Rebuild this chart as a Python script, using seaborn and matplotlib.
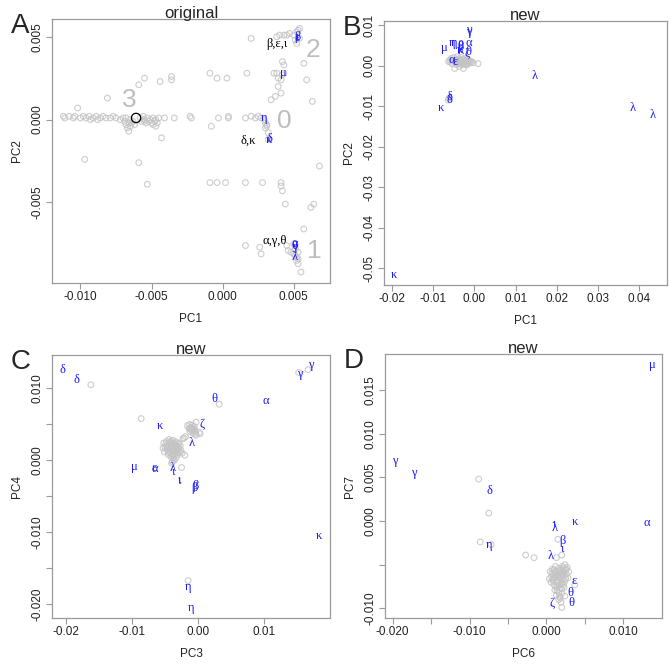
import seaborn as sns
import matplotlib.pyplot as plt
import numpy as np

# ---- panel A: PC1 vs PC2 (original) ----
a_points = [
    (-0.0112, 0.0002), (-0.0111, 0.0001), (-0.0108, 0.0002), (-0.0105, 0.0001), (-0.0104, 0.0002),
    (-0.0102, 0.0007), (-0.0100, 0.0001), (-0.0098, 0.0002), (-0.0097, -0.0024), (-0.0096, 0.0001),
    (-0.0094, 0.0002), (-0.0093, 0.0000), (-0.0091, 0.0001), (-0.0089, 0.0002), (-0.0088, 0.0000),
    (-0.0086, 0.0001), (-0.0084, 0.0002), (-0.0082, 0.0001), (-0.0081, 0.0013), (-0.0079, 0.0001),
    (-0.0077, 0.0002), (-0.0075, 0.0001), (-0.0072, 0.0000), (-0.0070, 0.0001),
    (-0.0069, -0.0001), (-0.0068, -0.0003), (-0.0068, 0.0001), (-0.0067, -0.0005), (-0.0066, -0.0002),
    (-0.0066, -0.0007), (-0.0065, 0.0000), (-0.0065, -0.0004), (-0.0064, -0.0002), (-0.0063, -0.0001),
    (-0.0062, -0.0003), (-0.0058, 0.0001), (-0.0057, -0.0001), (-0.0056, 0.0002), (-0.0055, -0.0001),
    (-0.0055, 0.0000), (-0.0054, -0.0002), (-0.0053, 0.0001), (-0.0052, -0.0001), (-0.0051, 0.0000),
    (-0.0050, -0.0002), (-0.0049, 0.0001), (-0.0049, -0.0003), (-0.0048, -0.0001), (-0.0047, -0.0004),
    (-0.0047, 0.0000), (-0.0046, -0.0002), (-0.0045, 0.0001),
    (-0.0059, 0.0021), (-0.0055, 0.0025), (-0.0059, -0.0026), (-0.0053, -0.0039), (-0.0044, 0.0023),
    (-0.0043, -0.0011), (-0.0041, 0.0001), (-0.0036, 0.0026), (-0.0036, 0.0024), (-0.0034, 0.0001),
    (-0.0023, 0.0002), (-0.0022, 0.0001), (-0.0009, 0.0028), (-0.0008, -0.0004), (-0.0004, 0.0025),
    (-0.0003, 0.0001), (0.0003, 0.0025), (0.0004, 0.0001), (0.0004, 0.0002), (-0.0009, -0.0038),
    (-0.0004, -0.0038), (0.0002, -0.0038), (0.0016, -0.0038), (0.0017, 0.0028), (0.0016, 0.0001),
    (0.0020, 0.0002), (0.0023, 0.0001), (0.0025, 0.0002), (0.0027, 0.0001), (0.0028, -0.0038),
    (0.0029, 0.0000), (0.0030, -0.0002), (0.0031, -0.0004), (0.0030, -0.0005), (0.0031, -0.0003),
    (0.0032, -0.0008), (0.0032, -0.0012),
    (0.0036, 0.0028), (0.0038, 0.0028), (0.0039, 0.0025), (0.0041, 0.0024), (0.0042, 0.0027),
    (0.0043, 0.0028), (0.0043, 0.0033), (0.0042, 0.0035), (0.0041, 0.0016), (0.0039, 0.0020),
    (0.0037, 0.0014), (0.0034, 0.0012),
    (0.0057, 0.0034), (0.0059, 0.0024), (0.0063, 0.0011), (0.0068, -0.0028), (0.0041, -0.0038),
    (0.0041, -0.0040), (0.0042, -0.0043), (0.0044, -0.0051), (0.0062, -0.0053), (0.0064, -0.0051),
    (0.0057, -0.0066),
    (0.0020, 0.0049), (0.0038, 0.0050), (0.0040, 0.0051), (0.0043, 0.0051), (0.0045, 0.0051),
    (0.0047, 0.0052), (0.0050, 0.0051), (0.0052, 0.0053), (0.0053, 0.0054), (0.0054, 0.0055),
    (0.0052, 0.0046), (0.0054, 0.0049), (0.0051, 0.0048),
    (0.0016, -0.0076), (0.0026, -0.0077), (0.0027, -0.0081), (0.0045, -0.0076), (0.0046, -0.0079),
    (0.0048, -0.0080), (0.0050, -0.0081), (0.0051, -0.0082), (0.0052, -0.0083), (0.0053, -0.0084),
    (0.0052, -0.0085), (0.0051, -0.0078), (0.0053, -0.0087), (0.0055, -0.0092), (0.0050, -0.0075),
    (0.0053, -0.0080),
]
a_labels = ['β', 'ε', 'ι', 'μ', 'η', 'δ', 'κ', 'α', 'γ', 'θ', 'λ']
a_label_x = [0.00526, 0.00526, 0.00528, 0.00426, 0.00291, 0.00328, 0.00328, 0.00507, 0.00507, 0.00507, 0.00509]
a_label_y = [0.00496, 0.00490, 0.00500, 0.00282, 0.00012, -0.00118, -0.00124, -0.00750, -0.00770, -0.00760, -0.00827]
a_notes = ['β,ε,ι', 'δ,κ', 'α,γ,θ']
a_note_x = [0.00379, 0.00181, 0.00367]
a_note_y = [0.00454, -0.00125, -0.00730]
a_clusters = ['3', '2', '0', '1']
a_cluster_x = [-0.00656, 0.00635, 0.00430, 0.00647]
a_cluster_y = [0.00121, 0.00419, -0.00010, -0.00790]
a_centre = (-0.00609, 0.00010)

# ---- panel B: PC1 vs PC2 (new) ----
b_points = [
    (-0.0063, 0.0010), (-0.0060, 0.0014), (-0.0058, 0.0008), (-0.0056, 0.0018), (-0.0054, 0.0005),
    (-0.0052, 0.0012), (-0.0050, 0.0020), (-0.0048, -0.0007), (-0.0047, 0.0009), (-0.0045, 0.0015),
    (-0.0044, 0.0002), (-0.0042, 0.0022), (-0.0041, 0.0011), (-0.0040, 0.0005), (-0.0038, 0.0017),
    (-0.0037, -0.0002), (-0.0036, 0.0009), (-0.0034, 0.0013), (-0.0033, 0.0004), (-0.0032, 0.0020),
    (-0.0030, 0.0008), (-0.0029, 0.0015), (-0.0027, -0.0007), (-0.0027, 0.0002), (-0.0025, 0.0011),
    (-0.0024, 0.0017), (-0.0022, 0.0006), (-0.0021, 0.0013), (-0.0019, 0.0009), (-0.0018, 0.0002),
    (-0.0016, 0.0016), (-0.0015, 0.0011), (-0.0013, 0.0006), (-0.0011, 0.0012), (-0.0009, 0.0008),
    (-0.0007, 0.0010), (-0.0003, 0.0007), (0.0009, 0.0005), (-0.0064, -0.0085), (-0.0062, -0.0080),
    (-0.0046, 0.0012), (-0.0043, 0.0008), (-0.0039, 0.0012), (-0.0035, 0.0006), (-0.0031, 0.0011),
    (-0.0028, 0.0005), (-0.0023, 0.0010), (-0.0020, 0.0004), (-0.0017, 0.0009),
]
b_labels = ['γ', 'γ', 'α', 'μ', 'η', 'η', 'θ', 'β', 'λ', 'κ', 'ι', 'ζ', 'θ', 'α', 'ε',
            'λ', 'λ', 'λ', 'δ', 'δ', 'κ', 'κ']
b_label_x = [-0.0015, -0.0015, -0.0013, -0.0072, -0.0054, -0.0049, -0.0035, -0.0034, -0.0033, -0.0036,
             -0.0039, -0.0017, -0.0016, -0.0054, -0.0046, 0.0146, 0.0385, 0.0433, -0.0060, -0.0061,
             -0.0082, -0.0195]
b_label_y = [0.0088, 0.0082, 0.0056, 0.0043, 0.0056, 0.0055, 0.0048, 0.0046, 0.0037, 0.0038,
             0.0039, 0.0030, 0.0033, 0.0014, 0.0010, -0.0026, -0.0105, -0.0122, -0.0078, -0.0085,
             -0.0105, -0.0516]

# ---- panel C: PC3 vs PC4 (new) ----
c_points = [
    (-0.0052, 0.0024), (-0.0050, 0.0018), (-0.0051, 0.0012), (-0.0048, 0.0026), (-0.0047, 0.0020),
    (-0.0046, 0.0014), (-0.0045, 0.0008), (-0.0044, 0.0023), (-0.0043, 0.0017), (-0.0042, 0.0011),
    (-0.0041, 0.0005), (-0.0041, 0.0027), (-0.0040, 0.0020), (-0.0039, 0.0014), (-0.0038, 0.0008),
    (-0.0037, 0.0002), (-0.0037, 0.0024), (-0.0036, 0.0017), (-0.0035, 0.0011), (-0.0034, 0.0026),
    (-0.0033, 0.0020), (-0.0032, 0.0014), (-0.0031, 0.0008), (-0.0030, 0.0023), (-0.0029, 0.0017),
    (-0.0028, 0.0011), (-0.0027, 0.0020), (-0.0026, 0.0014), (-0.0039, -0.0002), (-0.0040, -0.0004),
    (-0.0033, 0.0004), (-0.0053, 0.0017), (-0.0024, 0.0010), (-0.0020, 0.0007), (-0.0025, -0.0010),
    (-0.0023, 0.0030), (-0.0021, 0.0031), (-0.0019, 0.0033),
    (-0.0049, 0.0022), (-0.0047, 0.0016), (-0.0045, 0.0011), (-0.0043, 0.0025), (-0.0042, 0.0019),
    (-0.0040, 0.0009), (-0.0039, 0.0023), (-0.0038, 0.0018), (-0.0037, 0.0012), (-0.0036, 0.0006),
    (-0.0035, 0.0022), (-0.0034, 0.0016), (-0.0033, 0.0010), (-0.0031, 0.0019), (-0.0030, 0.0013),
    (-0.0029, 0.0024), (-0.0044, 0.0029), (-0.0038, 0.0028), (-0.0036, 0.0000), (-0.0038, 0.0004),
    (-0.0016, 0.0048), (-0.0014, 0.0044), (-0.0013, 0.0050), (-0.0012, 0.0040), (-0.0011, 0.0046),
    (-0.0010, 0.0042), (-0.0009, 0.0049), (-0.0008, 0.0038), (-0.0008, 0.0044), (-0.0007, 0.0041),
    (-0.0006, 0.0047), (-0.0005, 0.0036), (-0.0005, 0.0043), (-0.0004, 0.0039), (-0.0003, 0.0053),
    (-0.0003, 0.0035), (0.0002, 0.0039), (0.0003, 0.0037), (-0.0012, 0.0045), (-0.0009, 0.0043),
    (-0.0162, 0.0105), (-0.0086, 0.0058), (0.0032, 0.0078), (-0.0015, -0.0167), (0.0166, 0.0126),
    (0.0152, 0.0122),
]
c_labels = ['δ', 'δ', 'γ', 'γ', 'θ', 'α', 'κ', 'ζ', 'λ', 'μ', 'ε', 'α', 'λ', 'ι', 'ι', 'ι',
            'β', 'β', 'κ', 'η', 'η']
c_label_x = [-0.0205, -0.0183, 0.0153, 0.0170, 0.0024, 0.0103, -0.0057, 0.0006, -0.0010, -0.0096,
             -0.0067, -0.0066, -0.0038, -0.0038, -0.0028, -0.0029, -0.0006, -0.0004, 0.0183, -0.0015,
             -0.0011]
c_label_y = [0.0126, 0.0111, 0.0120, 0.0133, 0.0085, 0.0083, 0.0048, 0.0051, 0.0024, -0.0009,
             -0.0011, -0.0012, -0.0010, -0.0016, -0.0027, -0.0028, -0.0039, -0.0036, -0.0105, -0.0176,
             -0.0205]

# ---- panel D: PC6 vs PC7 (new) ----
d_points = [
    (0.0005, -0.0058), (0.0007, -0.0064), (0.0006, -0.0070), (0.0008, -0.0055), (0.0009, -0.0061),
    (0.0009, -0.0067), (0.0010, -0.0073), (0.0011, -0.0058), (0.0011, -0.0079), (0.0012, -0.0052),
    (0.0012, -0.0064), (0.0013, -0.0070), (0.0013, -0.0085), (0.0014, -0.0057), (0.0014, -0.0076),
    (0.0015, -0.0062), (0.0015, -0.0068), (0.0016, -0.0054), (0.0016, -0.0082), (0.0017, -0.0059),
    (0.0017, -0.0073), (0.0018, -0.0065), (0.0018, -0.0088), (0.0019, -0.0056), (0.0019, -0.0070),
    (0.0020, -0.0061), (0.0020, -0.0078), (0.0021, -0.0052), (0.0021, -0.0067), (0.0022, -0.0058),
    (0.0022, -0.0073), (0.0023, -0.0063), (0.0024, -0.0050), (0.0024, -0.0069), (0.0025, -0.0056),
    (0.0026, -0.0061), (0.0027, -0.0053), (0.0028, -0.0065), (0.0004, -0.0066), (0.0019, -0.0093),
    (0.0020, -0.0099),
    (0.0007, -0.0060), (0.0008, -0.0068), (0.0010, -0.0056), (0.0010, -0.0065), (0.0012, -0.0075),
    (0.0013, -0.0060), (0.0014, -0.0080), (0.0015, -0.0071), (0.0016, -0.0064), (0.0017, -0.0086),
    (0.0018, -0.0077), (0.0019, -0.0062), (0.0020, -0.0083), (0.0021, -0.0071), (0.0022, -0.0054),
    (0.0023, -0.0076), (0.0023, -0.0059), (0.0025, -0.0066), (0.0026, -0.0055), (0.0016, -0.0090),
    (-0.0088, 0.0048), (-0.0075, 0.0009), (-0.0086, -0.0024), (-0.0072, -0.0027), (-0.0027, -0.0039),
    (-0.0016, -0.0042), (0.0015, -0.0021), (0.0020, -0.0039), (0.0013, -0.0042), (0.0037, -0.0073),
    (0.0029, -0.0058), (0.0024, -0.0086),
]
d_labels = ['μ', 'γ', 'γ', 'δ', 'κ', 'α', 'λ', 'ι', 'β', 'ι', 'λ', 'η', 'ε', 'θ', 'θ', 'ζ']
d_label_x = [0.0138, -0.0197, -0.0172, -0.0074, 0.0037, 0.0131, 0.0011, 0.0011, 0.0021, 0.0021,
             0.0005, -0.0075, 0.0036, 0.0031, 0.0032, 0.0008]
d_label_y = [0.0179, 0.0069, 0.0055, 0.0034, -0.0001, -0.0002, -0.0008, -0.0004, -0.0023, -0.0032,
             -0.0040, -0.0027, -0.0069, -0.0082, -0.0094, -0.0094]

sns.set_style("white")
plt.rcParams['font.family'] = ['Liberation Sans', 'DejaVu Sans']

GREY = '#c4c4c4'
BLUE = '#1a1aff'
SPINE = '#9a9a9a'

fig = plt.figure(figsize=(6.7, 6.7), dpi=100)


def make_panel(rect, pts, labels, lx, ly, xlim, ylim, xticks, xtl, yticks, ytl, xlabel, ylabel, title, letter):
    ax = fig.add_axes(rect)
    px, py = zip(*pts)
    sns.scatterplot(x=list(px), y=list(py), ax=ax, s=17, facecolor='none', edgecolor=GREY,
                    linewidth=0.8, alpha=0.85, legend=False)
    for t, x, y in zip(labels, lx, ly):
        ax.text(x, y, t, color=BLUE, fontsize=9, family='Liberation Serif', ha='center', va='center')
    ax.set_xlim(xlim)
    ax.set_ylim(ylim)
    ax.set_xticks(xticks)
    ax.set_xticklabels(xtl)
    ax.set_yticks(yticks)
    ax.set_yticklabels(ytl, rotation=90, va='center')
    ax.tick_params(direction='out', length=4, width=0.8, color=SPINE, labelsize=8.5,
                   labelcolor='#222222', left=True, bottom=True, pad=2)
    for s in ax.spines.values():
        s.set_color(SPINE)
        s.set_linewidth(0.9)
    ax.set_xlabel(xlabel, fontsize=8.5, color='#222222', labelpad=7)
    ax.set_ylabel(ylabel, fontsize=8.5, color='#222222', labelpad=6)
    ax.set_title(title, fontsize=12, pad=1)
    fig.text(rect[0] - 0.062, rect[1] + rect[3] - 0.01, letter, fontsize=20, va='center', ha='left')
    return ax


axA = make_panel([0.0776, 0.5776, 0.4149, 0.394], a_points, a_labels, a_label_x, a_label_y,
                 (-0.0120, 0.00754), (-0.00986, 0.00607),
                 [-0.010, -0.005, 0.000, 0.005], ['-0.010', '-0.005', '0.000', '0.005'],
                 [-0.005, 0.000, 0.005], ['-0.005', '0.000', '0.005'],
                 'PC1', 'PC2', 'original', 'A')
for t, x, y in zip(a_notes, a_note_x, a_note_y):
    axA.text(x, y, t, color='black', fontsize=9, family='Liberation Serif', ha='center', va='center')
for t, x, y in zip(a_clusters, a_cluster_x, a_cluster_y):
    axA.text(x, y, t, color='#bdbdbd', fontsize=19, ha='center', va='center')
sns.scatterplot(x=[a_centre[0]], y=[a_centre[1]], ax=axA, s=45, facecolor='none',
                edgecolor='black', linewidth=0.9, legend=False)

make_panel([0.5731, 0.5746, 0.4224, 0.394], b_points, b_labels, b_label_x, b_label_y,
           (-0.0220, 0.0468), (-0.0541, 0.0110),
           [-0.02, -0.01, 0.00, 0.01, 0.02, 0.03, 0.04],
           ['-0.02', '-0.01', '0.00', '0.01', '0.02', '0.03', '0.04'],
           [-0.05, -0.04, -0.03, -0.02, -0.01, 0.00, 0.01],
           ['-0.05', '-0.04', '-0.03', '-0.02', '-0.01', '0.00', '0.01'],
           'PC1', 'PC2', 'new', 'B')

make_panel([0.0776, 0.0776, 0.4149, 0.3925], c_points, c_labels, c_label_x, c_label_y,
           (-0.02207, 0.01992), (-0.0219, 0.01463),
           [-0.02, -0.01, 0.00, 0.01], ['-0.02', '-0.01', '0.00', '0.01'],
           [-0.020, -0.015, -0.010, -0.005, 0.000, 0.005, 0.010],
           ['-0.020', '', '-0.010', '', '0.000', '', '0.010'],
           'PC3', 'PC4', 'new', 'C')

make_panel([0.5746, 0.0776, 0.4134, 0.394], d_points, d_labels, d_label_x, d_label_y,
           (-0.0210, 0.01504), (-0.01111, 0.01912),
           [-0.020, -0.015, -0.010, -0.005, 0.000, 0.005, 0.010],
           ['-0.020', '', '-0.010', '', '0.000', '', '0.010'],
           [-0.010, -0.005, 0.000, 0.005, 0.010, 0.015],
           ['-0.010', '', '0.000', '0.005', '0.010', '0.015'],
           'PC6', 'PC7', 'new', 'D')

fig.savefig('out.png', dpi=100)
